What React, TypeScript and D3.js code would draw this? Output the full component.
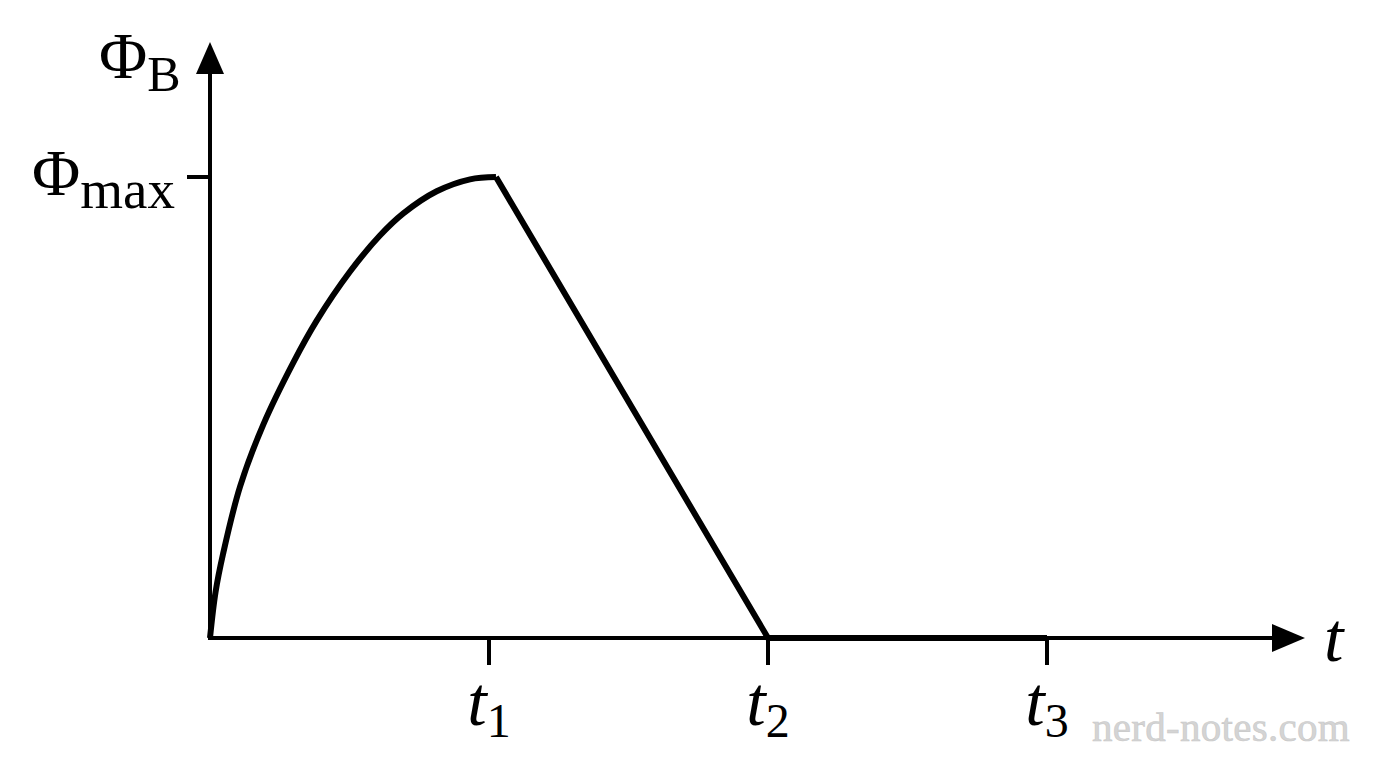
import * as d3 from "d3";

// rising part of the flux (t in units of t1, flux in units of max)
const riseT = [0, 0.02, 0.047, 0.108, 0.191, 0.299, 0.382, 0.502, 0.609, 0.693, 0.8125, 0.932, 1.025];
const riseFlux = [0, 0.1, 0.183, 0.329, 0.463, 0.598, 0.688, 0.795, 0.873, 0.921, 0.969, 0.995, 1.0];

// linear fall to zero, then zero until t3
const fallT = [1.025, 2, 3];
const fallFlux = [1.0, 0, 0];

const tickValues = [1, 2, 3];
const tickSubs = ["1", "2", "3"];

const W = 1376;
const H = 768;
const serif = "'Liberation Serif', 'Times New Roman', serif";

export default function App() {
  const x = d3.scaleLinear().domain([0, 1]).range([210, 489]);
  const y = d3.scaleLinear().domain([0, 1]).range([638, 177]);

  const xEnd = x.invert(1305);
  const yEnd = y.invert(42);

  const rise = riseT.map((t, i) => ({ t, f: riseFlux[i] }));
  const fall = fallT.map((t, i) => ({ t, f: fallFlux[i] }));

  const curve = d3
    .line<{ t: number; f: number }>()
    .x((d) => x(d.t))
    .y((d) => y(d.f))
    .curve(d3.curveCatmullRom.alpha(0.5));
  const straight = d3
    .line<{ t: number; f: number }>()
    .x((d) => x(d.t))
    .y((d) => y(d.f));

  const x0 = x(0);
  const y0 = y(0);
  const ax = x(xEnd);
  const ay = y(yEnd);

  return (
    <div style={{ position: "fixed", inset: 0, background: "#fff" }}>
      <svg width={W} height={H} style={{ display: "block" }}>
        {/* axes */}
        <line x1={x0} y1={y0} x2={ax - 20} y2={y0} stroke="#000" strokeWidth={4} />
        <line x1={x0} y1={y0 + 2} x2={x0} y2={ay + 20} stroke="#000" strokeWidth={4} />
        <polygon
          points={`${ax},${y0} ${ax - 33},${y0 - 14} ${ax - 33},${y0 + 14}`}
          fill="#000"
        />
        <polygon
          points={`${x0},${ay} ${x0 - 14},${ay + 32} ${x0 + 14},${ay + 32}`}
          fill="#000"
        />

        {/* ticks */}
        {tickValues.map((v) => (
          <line key={v} x1={x(v)} y1={y0} x2={x(v)} y2={y0 + 27} stroke="#000" strokeWidth={4} />
        ))}
        <line x1={x0 - 23} y1={y(1)} x2={x0} y2={y(1)} stroke="#000" strokeWidth={4} />

        {/* flux curve */}
        <path d={curve(rise) ?? ""} fill="none" stroke="#000" strokeWidth={6} strokeLinejoin="round" />
        <path d={straight(fall) ?? ""} fill="none" stroke="#000" strokeWidth={6} strokeLinejoin="miter" />

        {/* tick labels */}
        {tickValues.map((v, i) => (
          <text
            key={v}
            x={x(v)}
            y={725}
            textAnchor="middle"
            fontFamily={serif}
            fontSize={70}
          >
            <tspan fontStyle="italic">t</tspan>
            <tspan fontSize={48} dy={12}>
              {tickSubs[i]}
            </tspan>
          </text>
        ))}

        <text x={x0 - 178} y={y(1) + 18} fontFamily={serif} fontSize={66}>
          Φ
          <tspan fontSize={55} dy={13}>
            max
          </tspan>
        </text>

        <text x={99} y={78} fontFamily={serif} fontSize={66}>
          Φ
          <tspan fontSize={50} dy={13}>
            B
          </tspan>
        </text>

        <text x={1324} y={661} fontFamily={serif} fontSize={70} fontStyle="italic">
          t
        </text>

        {/* watermark */}
        <text
          x={1350}
          y={741}
          textAnchor="end"
          fontFamily={serif}
          fontSize={41}
          fill="#d4d4d4"
          stroke="#c8c8c8"
          strokeWidth={0.6}
          letterSpacing={0.3}
        >
          nerd-notes.com
        </text>
      </svg>
    </div>
  );
}
